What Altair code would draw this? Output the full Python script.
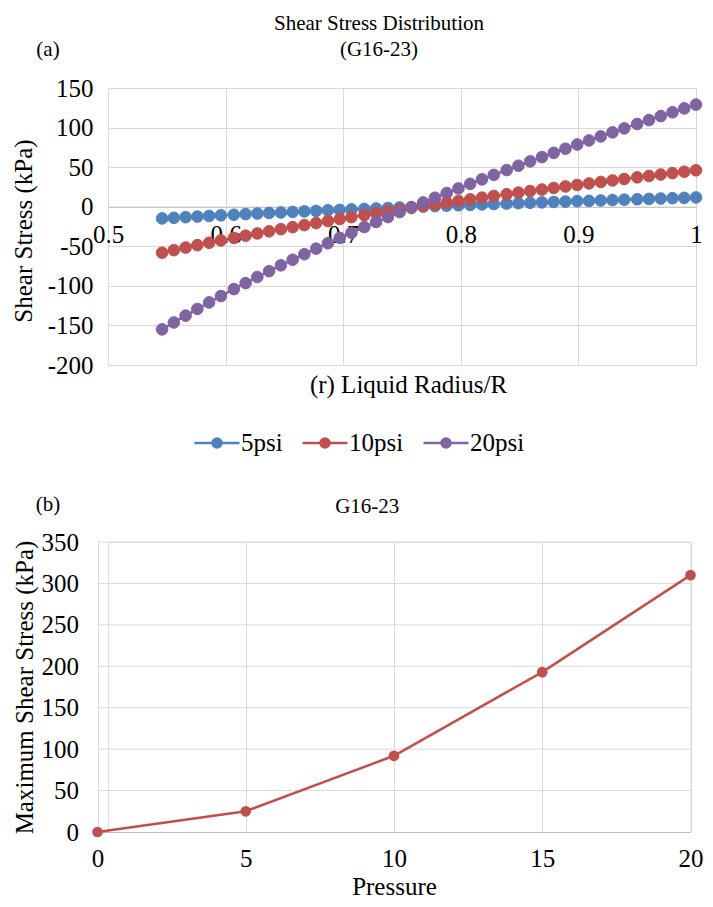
import altair as alt
import pandas as pd

# ---------------- data ----------------
r_ratio = [0.546, 0.556, 0.566, 0.576, 0.586, 0.596, 0.607, 0.617, 0.627, 0.637,
           0.647, 0.657, 0.667, 0.677, 0.687, 0.697, 0.707, 0.718, 0.728, 0.738,
           0.748, 0.758, 0.768, 0.778, 0.788, 0.798, 0.808, 0.818, 0.828, 0.839,
           0.849, 0.859, 0.869, 0.879, 0.889, 0.899, 0.909, 0.919, 0.929, 0.939,
           0.950, 0.960, 0.970, 0.980, 0.990, 1.000]

tau_5psi = [-14.8, -14.0, -13.2, -12.4, -11.7, -10.9, -10.1, -9.3, -8.6, -7.9,
            -7.3, -6.6, -5.9, -5.3, -4.6, -4.0, -3.4, -2.8, -2.2, -1.6,
            -1.0, -0.4, 0.2, 0.7, 1.3, 1.8, 2.4, 2.9, 3.4, 4.0,
            4.5, 5.0, 5.5, 6.0, 6.5, 7.0, 7.4, 7.9, 8.4, 8.9,
            9.4, 9.9, 10.4, 10.8, 11.2, 11.7]

tau_10psi = [-58.1, -54.9, -51.6, -48.5, -45.5, -42.6, -39.4, -36.6, -33.8, -31.1,
             -28.4, -25.8, -23.2, -20.7, -18.1, -15.6, -13.2, -10.6, -8.3, -6.0,
             -3.7, -1.5, 0.8, 2.9, 5.1, 7.2, 9.3, 11.5, 13.6, 15.8,
             17.8, 19.8, 21.7, 23.7, 25.6, 27.5, 29.4, 31.3, 33.2, 35.0,
             37.1, 38.9, 40.7, 42.5, 44.2, 46.0]

tau_20psi = [-155.0, -146.3, -137.6, -129.2, -120.9, -112.9, -104.1, -96.5, -88.8, -81.5,
             -74.1, -67.0, -60.0, -53.0, -46.2, -39.4, -32.9, -25.7, -19.3, -13.1,
             -6.8, -0.7, 5.4, 11.4, 17.3, 23.1, 28.9, 34.6, 40.2, 46.3,
             51.8, 57.3, 62.7, 68.0, 73.3, 78.6, 83.7, 88.8, 94.0, 99.0,
             104.6, 109.5, 114.5, 119.3, 124.2, 129.0]

series_names = ["5psi", "10psi", "20psi"]
series_colors = ["#4f81bd", "#c0504d", "#8064a2"]

pressure = [0, 5, 10, 15, 20]
max_shear = [0, 25, 92, 193, 310]

x_ticks_a = [0.5, 0.6, 0.7, 0.8, 0.9, 1.0]
y_ticks_a = [-200, -150, -100, -50, 0, 50, 100, 150]
x_ticks_b = [0, 5, 10, 15, 20]
y_ticks_b = [0, 50, 100, 150, 200, 250, 300, 350]

# ---------------- tables ----------------
rows = []
for name, vals in zip(series_names, [tau_5psi, tau_10psi, tau_20psi]):
    for r, v in zip(r_ratio, vals):
        rows.append({"r": r, "tau": v, "series": name})
df_a = pd.DataFrame(rows)
df_b = pd.DataFrame({"p": pressure, "tau": max_shear})
df_bgrid = pd.DataFrame({"v": y_ticks_b[1:]})

FONT = "Liberation Serif"
GRID = "#d9d9d9"
FS = 25      # tick labels, axis titles, legend
FT = 21      # chart titles
FTAG = 21    # (a) / (b)

color_scale = alt.Scale(domain=series_names, range=series_colors)
sym_path = "M-1,0H1M0.2,0A0.2,0.2,0,1,1,-0.2,0A0.2,0.2,0,1,1,0.2,0Z"
legend = alt.Legend(
    title=None, orient="none", direction="horizontal",
    legendX=85, legendY=331,
    symbolType=sym_path, symbolSize=2025, symbolStrokeWidth=2.5,
    labelFont=FONT, labelFontSize=FS, labelColor="#000000",
    labelOffset=0, columnPadding=14,
)

# ---------------- panel (a) ----------------
W_A, H_A = 588, 277
xa = alt.X(
    "r:Q",
    scale=alt.Scale(domain=[0.5, 1.0], nice=False, zero=False),
    axis=alt.Axis(
        values=x_ticks_a,
        labelExpr="datum.value == 1 ? '1' : format(datum.value, '.1f')",
        offset=-H_A * 200 / 350,
        ticks=False, domain=True, domainColor="#bfbfbf", domainWidth=1,
        grid=True, gridColor=GRID,
        labelFlush=False, labelPadding=16,
        labelFont=FONT, labelFontSize=FS, labelColor="#000000",
        title="(r) Liquid Radius/R", titleFont=FONT, titleFontSize=FS,
        titleFontWeight="normal", titleColor="#000000",
        titleX=W_A / 2 + 6, titleY=178, titleBaseline="middle",
    ),
)
ya = alt.Y(
    "tau:Q",
    scale=alt.Scale(domain=[-200, 150], nice=False, zero=False),
    axis=alt.Axis(
        values=y_ticks_a, labelExpr="'' + datum.value",
        ticks=False, domain=False, grid=True, gridColor=GRID,
        labelPadding=15, labelFont=FONT, labelFontSize=FS, labelColor="#000000",
        title="Shear Stress (kPa)", titleFont=FONT, titleFontSize=FS,
        titleFontWeight="normal", titleColor="#000000",
        titleX=-85, titleY=H_A / 2 + 4, titleBaseline="middle",
    ),
)

base_a = alt.Chart(df_a)
lines_a = base_a.mark_line(strokeWidth=2.5).encode(
    x=xa, y=ya,
    stroke=alt.Stroke("series:N", scale=color_scale, legend=legend, sort=series_names),
    detail="series:N",
)
pts_a = base_a.mark_circle(size=135, opacity=1, strokeWidth=1).encode(
    x=xa, y=ya,
    fill=alt.Fill("series:N", scale=color_scale, legend=legend, sort=series_names),
    stroke=alt.Stroke("series:N", scale=color_scale, legend=legend, sort=series_names),
)
tag_a = alt.Chart(pd.DataFrame({"t": ["(a)"]})).mark_text(
    font=FONT, fontSize=FTAG, color="#000000", align="center", baseline="middle"
).encode(x=alt.value(-60), y=alt.value(-38), text="t:N")

chart_a = alt.layer(lines_a, pts_a, tag_a).properties(
    width=W_A, height=H_A,
    title=alt.TitleParams(
        ["Shear Stress Distribution", "(G16-23)"], font=FONT, fontSize=FT,
        fontWeight="normal", color="#000000", lineHeight=26, offset=-21,
        anchor="middle", dx=-23,
    ),
)

# ---------------- panel (b) ----------------
# plot area starts SHIFT px left of the panel origin (as in the reference)
SHIFT = 10.5
W_B, H_B = 593, 290
xb_scale = alt.Scale(domain=[0, 20], nice=False, range=[-SHIFT, W_B - SHIFT])
yb_scale = alt.Scale(domain=[0, 350], nice=False)
xb = alt.X(
    "p:Q",
    scale=xb_scale,
    axis=alt.Axis(
        values=x_ticks_b, ticks=False, domain=True, domainColor="#bfbfbf",
        grid=True, gridColor=GRID, labelFlush=False, labelPadding=14,
        labelFont=FONT, labelFontSize=FS, labelColor="#000000",
        title="Pressure", titleFont=FONT, titleFontSize=FS,
        titleFontWeight="normal", titleColor="#000000", titlePadding=3,
    ),
)
yb = alt.Y(
    "tau:Q",
    scale=yb_scale,
    axis=alt.Axis(
        values=y_ticks_b, ticks=False, domain=False, grid=False,
        labelPadding=19 + SHIFT, labelFont=FONT, labelFontSize=FS, labelColor="#000000",
        title="Maximum Shear Stress (kPa)", titleFont=FONT, titleFontSize=FS,
        titleFontWeight="normal", titleColor="#000000",
        titleX=-73 - SHIFT, titleY=H_B / 2, titleBaseline="middle",
    ),
)
grid_b = alt.Chart(df_bgrid).mark_rule(color=GRID, strokeWidth=1).encode(
    y=alt.Y("v:Q", scale=yb_scale), x=alt.datum(0), x2=alt.datum(20)
)
base_b = alt.Chart(df_b)
line_b = base_b.mark_line(color="#c0504d", strokeWidth=2.5).encode(x=xb, y=yb)
pts_b = base_b.mark_circle(color="#c0504d", size=115, opacity=1).encode(x=xb, y=yb)
tag_b = alt.Chart(pd.DataFrame({"t": ["(b)"]})).mark_text(
    font=FONT, fontSize=FTAG, color="#000000", align="center", baseline="middle"
).encode(x=alt.value(-60), y=alt.value(-37), text="t:N")

chart_b = alt.layer(grid_b, line_b, pts_b, tag_b).properties(
    width=W_B - SHIFT, height=H_B,
    title=alt.TitleParams(
        "G16-23", font=FONT, fontSize=FT, fontWeight="normal", color="#000000",
        offset=-23, anchor="middle", dx=-32,
    ),
)

chart = alt.vconcat(chart_a, chart_b, spacing=94).properties(
    padding={"left": 2, "top": 4, "right": -1, "bottom": 0}
).configure_view(stroke=None).configure(background="white")

chart.save("out.html", embed_options={"renderer": "svg", "actions": False})
